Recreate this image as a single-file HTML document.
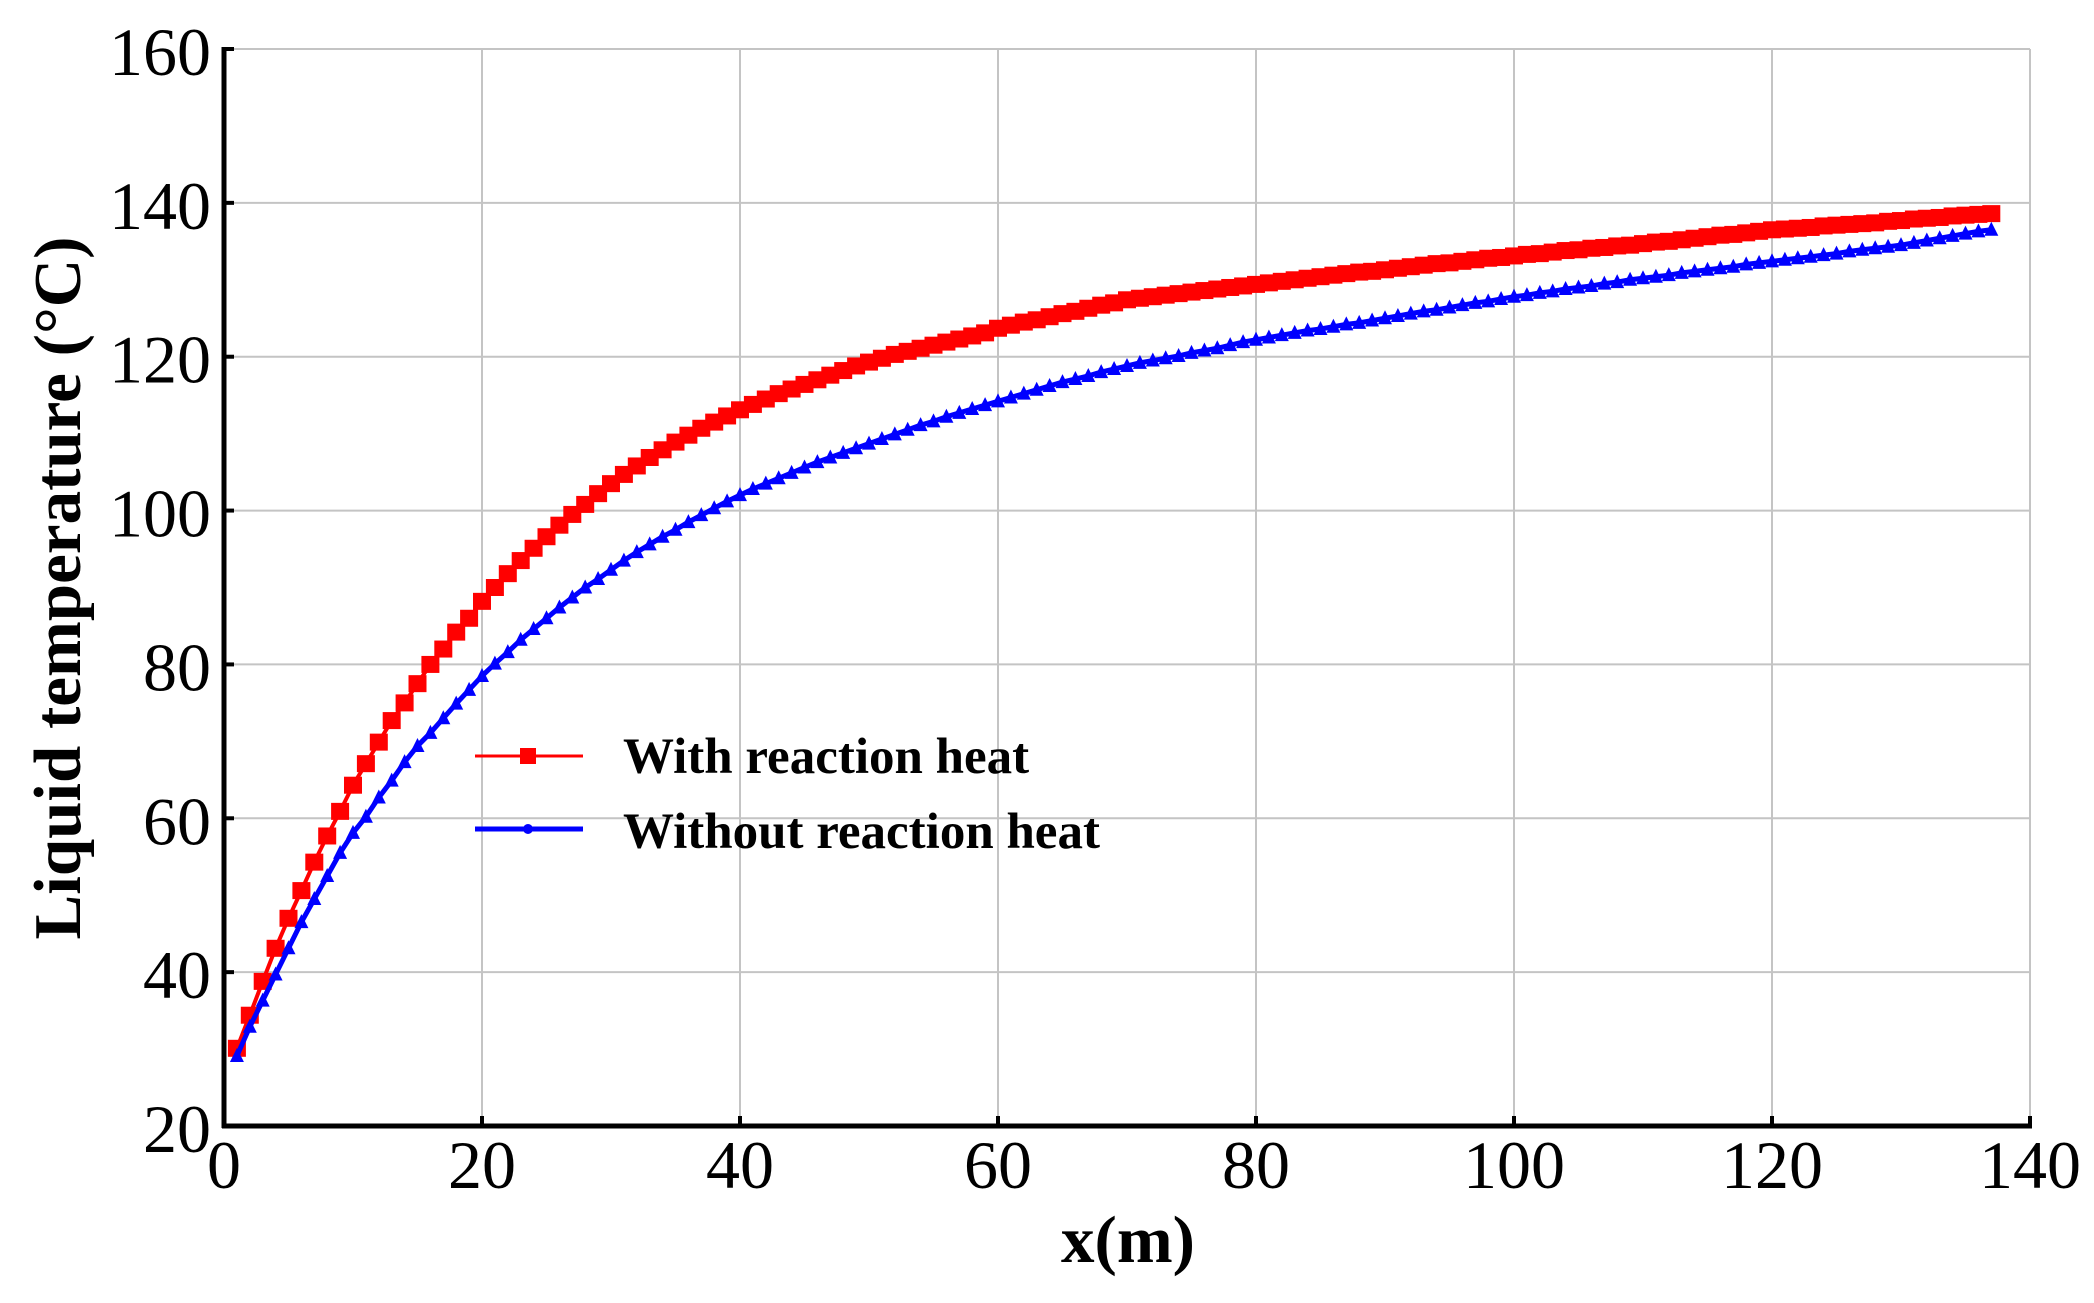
<!DOCTYPE html>
<html><head><meta charset="utf-8"><style>html,body{margin:0;padding:0;background:#fff}svg{display:block}</style></head>
<body>
<svg id="chart" width="2094" height="1303" viewBox="0 0 2094 1303" xmlns="http://www.w3.org/2000/svg" font-family="'Liberation Serif', serif">
<rect width="2094" height="1303" fill="#fff"/>
<g id="grid"></g>
<g id="ticks"></g>
<g id="series"></g>
<line x1="224" y1="47" x2="224" y2="1128" stroke="#000" stroke-width="5"/>
<line x1="222" y1="1126" x2="2032" y2="1126" stroke="#000" stroke-width="5"/>
<text transform="translate(80,588) rotate(-90)" text-anchor="middle" font-size="67" font-weight="bold">Liquid temperature (°C)</text>
<text x="1128" y="1262" text-anchor="middle" font-size="67" font-weight="bold">x(m)</text>
<g>
<g>
<line x1="475" y1="756" x2="583" y2="756" stroke="#ff0000" stroke-width="3"/>
<rect x="520" y="748" width="16" height="16" fill="#ff0000"/>
<text x="623" y="773" font-size="51" font-weight="bold">With reaction heat</text>
</g>
<g>
<line x1="475" y1="829" x2="583" y2="829" stroke="#0000ff" stroke-width="5"/>
<circle cx="528" cy="829" r="5" fill="#0000ff"/>
<text x="623" y="848" font-size="51" font-weight="bold">Without reaction heat</text>
</g>
</g>
</svg>
<script>
const xTicks = [0,20,40,60,80,100,120,140];
const yTicks = [20,40,60,80,100,120,140,160];
const xPos = [1,2,3,4,5,6,7,8,9,10,11,12,13,14,15,16,17,18,19,20,21,22,23,24,25,26,27,28,29,30,31,32,33,34,35,36,37,38,39,40,41,42,43,44,45,46,47,48,49,50,51,52,53,54,55,56,57,58,59,60,61,62,63,64,65,66,67,68,69,70,71,72,73,74,75,76,77,78,79,80,81,82,83,84,85,86,87,88,89,90,91,92,93,94,95,96,97,98,99,100,101,102,103,104,105,106,107,108,109,110,111,112,113,114,115,116,117,118,119,120,121,122,123,124,125,126,127,128,129,130,131,132,133,134,135,136,137];
const withHeat = [30.1,34.4,38.8,43.1,47,50.6,54.3,57.7,60.9,64.3,67.1,69.9,72.7,75,77.5,80,82,84.2,86,88.2,90,91.8,93.5,95.1,96.6,98.1,99.5,100.8,102.2,103.5,104.7,105.8,106.9,107.9,108.9,109.8,110.7,111.5,112.3,113.1,113.8,114.5,115.2,115.8,116.4,117,117.6,118.2,118.8,119.3,119.8,120.3,120.7,121.1,121.5,121.9,122.3,122.7,123.1,123.7,124.1,124.5,124.8,125.2,125.6,125.9,126.3,126.7,127,127.4,127.6,127.8,128,128.2,128.4,128.6,128.8,129,129.2,129.4,129.6,129.8,130,130.2,130.4,130.6,130.8,131,131.1,131.3,131.5,131.7,131.9,132.1,132.2,132.4,132.6,132.8,132.9,133.1,133.3,133.4,133.6,133.8,133.9,134.1,134.2,134.4,134.5,134.7,134.9,135,135.2,135.4,135.6,135.8,135.9,136.1,136.3,136.5,136.6,136.7,136.8,137,137.1,137.2,137.3,137.4,137.6,137.7,137.9,138,138.1,138.3,138.4,138.5,138.6];
const withoutHeat = [29.1,32.9,36.3,39.7,43.1,46.5,49.5,52.5,55.5,58.1,60.2,62.7,64.9,67.3,69.4,71.1,73,74.9,76.7,78.5,80.1,81.6,83.2,84.6,86,87.4,88.7,90,91.1,92.3,93.5,94.6,95.6,96.6,97.5,98.5,99.4,100.3,101.2,102,102.8,103.5,104.2,104.9,105.6,106.3,106.9,107.5,108.1,108.7,109.3,109.9,110.5,111.1,111.6,112.2,112.7,113.2,113.7,114.2,114.7,115.2,115.7,116.2,116.7,117.1,117.5,118,118.4,118.8,119.2,119.5,119.8,120.1,120.5,120.8,121.1,121.5,121.9,122.2,122.5,122.8,123.1,123.4,123.6,123.9,124.2,124.4,124.7,125,125.3,125.6,125.9,126.1,126.4,126.7,127,127.2,127.5,127.8,128,128.3,128.5,128.8,129,129.2,129.5,129.7,130,130.2,130.4,130.6,130.9,131.1,131.3,131.5,131.7,132,132.2,132.4,132.6,132.8,133,133.2,133.4,133.7,133.9,134.1,134.3,134.5,134.8,135.1,135.4,135.7,136,136.3,136.5];

const NS = 'http://www.w3.org/2000/svg';
const X0 = 224, X1 = 2030, Y0 = 1126, Y1 = 49;
function sx(v){ return X0 + (v - 0) / 140 * (X1 - X0); }
function sy(v){ return Y0 - (v - 20) / 140 * (Y0 - Y1); }
function mk(tag, attrs, parent){ const e = document.createElementNS(NS, tag); for (const k in attrs) e.setAttribute(k, attrs[k]); parent.appendChild(e); return e; }

const grid = document.getElementById('grid');
const ticks = document.getElementById('ticks');
xTicks.forEach(function(t){
  const g = mk('line', {x1: sx(t), x2: sx(t), y1: Y1, y2: Y0, stroke: '#c4c4c4', 'stroke-width': 2}, grid);
  
  
  const tk = mk('line', {x1: sx(t), x2: sx(t), y1: Y0, y2: Y0 - 10, stroke: '#000', 'stroke-width': 4}, ticks);
  
  
  const lb = mk('text', {x: sx(t), y: Y0 + 62, 'text-anchor': 'middle', 'font-size': 68}, ticks);
  lb.textContent = t;
  
  
});
yTicks.forEach(function(t){
  const g = mk('line', {x1: X0, x2: X1, y1: sy(t), y2: sy(t), stroke: '#c4c4c4', 'stroke-width': 2}, grid);
  
  
  const tk = mk('line', {x1: X0, x2: X0 + 10, y1: sy(t), y2: sy(t), stroke: '#000', 'stroke-width': 4}, ticks);
  
  
  const lb = mk('text', {x: 211, y: sy(t) + 26, 'text-anchor': 'end', 'font-size': 68}, ticks);
  lb.textContent = t;
  
  
});

const series = document.getElementById('series');
const redG = mk('g', {}, series);


const redPath = mk('polyline', {points: xPos.map(function(x,i){ return sx(x) + ',' + sy(withHeat[i]); }).join(' '), fill: 'none', stroke: '#ff0000', 'stroke-width': 4}, redG);


xPos.forEach(function(x,i){
  const r = mk('rect', {x: sx(x) - 9, y: sy(withHeat[i]) - 8.5, width: 18, height: 17, fill: '#ff0000'}, redG);
  
  
});
const blueG = mk('g', {}, series);


const bluePath = mk('polyline', {points: xPos.map(function(x,i){ return sx(x) + ',' + sy(withoutHeat[i]); }).join(' '), fill: 'none', stroke: '#0000ff', 'stroke-width': 5}, blueG);


xPos.forEach(function(x,i){
  const cx = sx(x), cy = sy(withoutHeat[i]);
  const s = mk('path', {d: 'M' + (cx-7) + ',' + (cy+6) + 'L' + cx + ',' + (cy-8) + 'L' + (cx+7) + ',' + (cy+6) + 'Z', fill: '#0000ff'}, blueG);
  
  
});
</script>
</body></html>
